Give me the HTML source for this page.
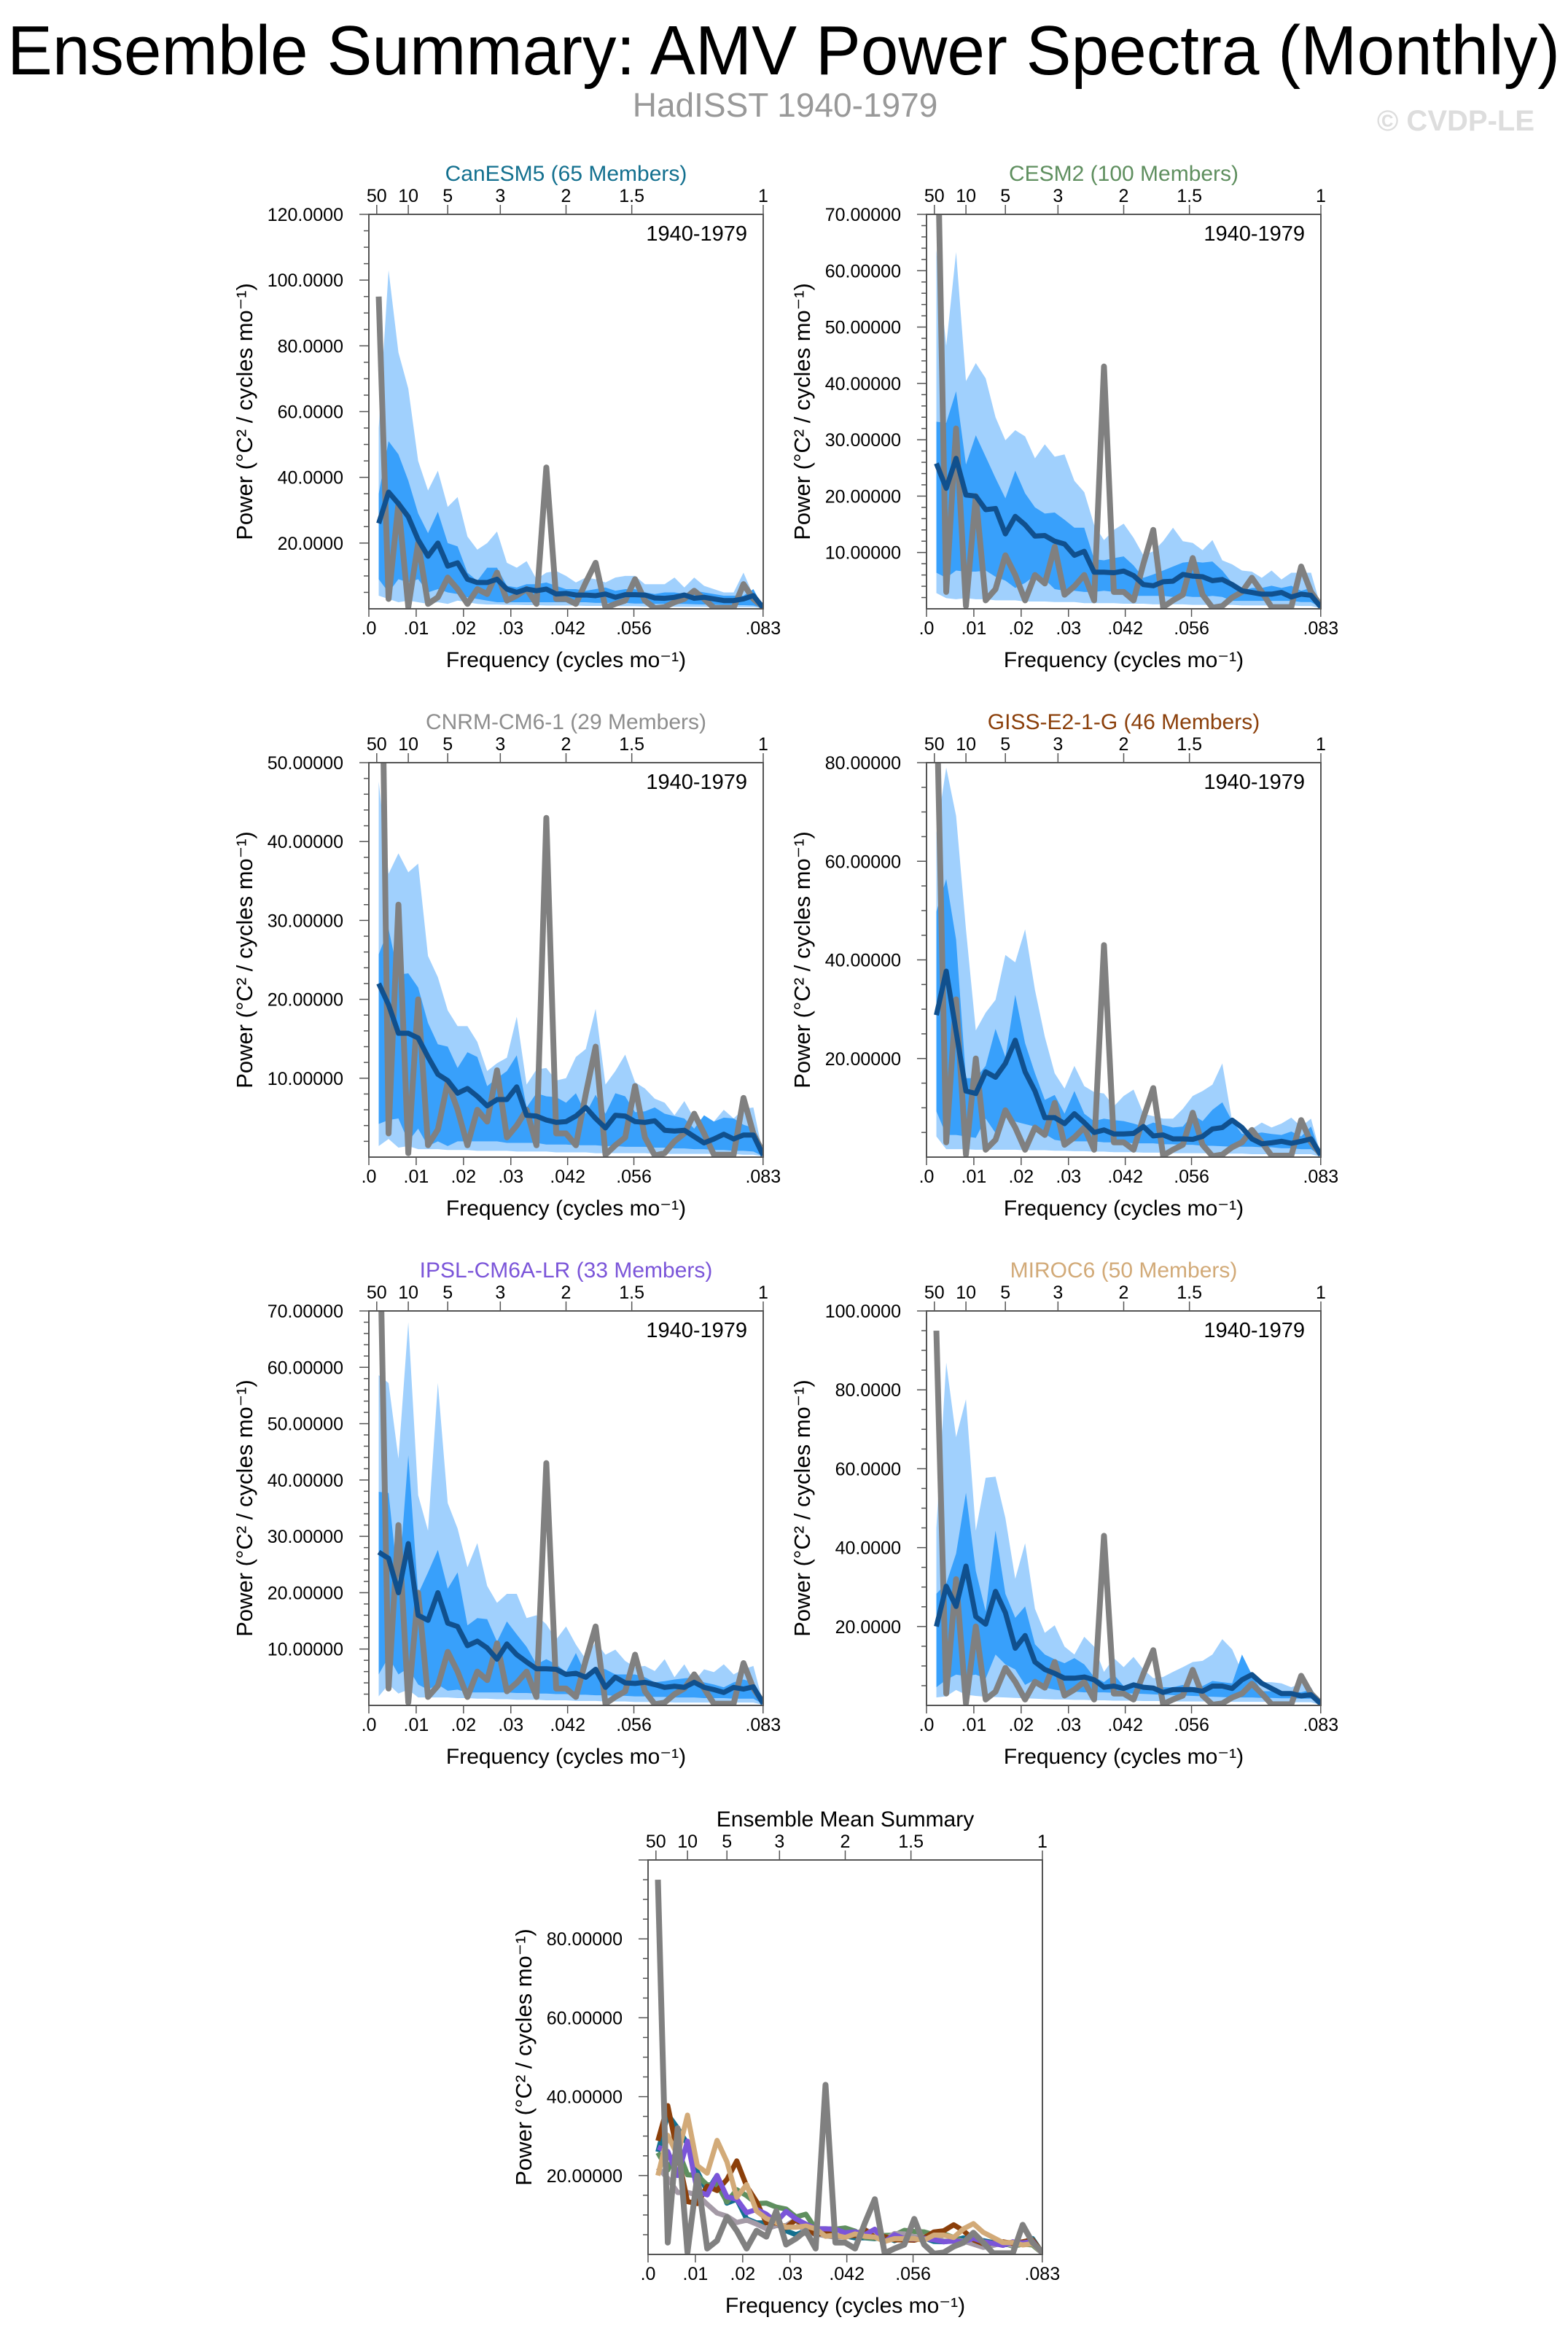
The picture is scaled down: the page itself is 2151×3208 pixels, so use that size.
<!DOCTYPE html>
<html><head><meta charset="utf-8"><title>Ensemble Summary: AMV Power Spectra (Monthly)</title>
<style>html,body{margin:0;padding:0;background:#fff;}svg{display:block;font-family:"Liberation Sans",Arial,sans-serif;}</style>
</head><body>
<svg id="chart" xmlns="http://www.w3.org/2000/svg" width="2151" height="3208" viewBox="0 0 2151 3208">
<rect x="0" y="0" width="2151" height="3208" fill="#fff"/>
<text x="10" y="102" font-size="96" textLength="2130" lengthAdjust="spacingAndGlyphs" fill="#000">Ensemble Summary: AMV Power Spectra (Monthly)</text>
<text x="1077" y="160" font-size="46" text-anchor="middle" fill="#999">HadISST 1940-1979</text>
<text x="2105" y="179" font-size="40" font-weight="bold" text-anchor="end" fill="#ddd">© CVDP-LE</text>
</svg>
<script>
const obs=[95,3,32,0.5,20,1.5,3.5,9.5,6,1.5,6,4.5,11,2.5,4,6,1.5,43,3,3,1.5,8,14,0.3,1.5,2.5,9,2.5,0.2,0.5,2,3,5.5,3,0.3,0.3,0.3,7.5,3,0.5];

const canMean=[26,35.5,32,28,21,16,20,13,14,9,8,8,9,6,5,6,5.5,6,4.5,4.7,4.2,4.2,4,4.5,3.5,4.3,4.3,4.2,3.3,3.2,3.5,4.2,3.2,3.5,3,2.5,2.5,3,4,0.3];
const canHi1=[55,103,78,67,45,36,42,31,34,22,18,20,23.5,14,12.5,14.5,9,11,11.5,10,8,9.5,9,8,9.5,10,10,7.5,7.5,7.5,9.5,6.5,9.5,7,6,5,5,11,4,0.5];
const canHi2=[35,51,47,39,29,23,29.5,20,19,11,8.5,12.5,12.5,7,6.5,7.5,7.5,8,7,6,6,5.5,6,6.5,5.5,6,6,5,4.5,5,5,4.5,5.5,5,4.5,4,4,4,6,0.5];
const canLo2=[9,5,9,8,9,5,6,5,4.5,3.5,3,2.5,2,2,2,2,2,2,2,2,2,2,1.8,1.8,1.8,1.8,1.6,1.6,1.5,1.5,1.5,1.5,1.4,1.3,1.3,1.2,1.1,1.1,1,0.3];
const canLo1=[4,3,2,2.5,2,1.5,2,1.5,2.5,2,1.5,1.3,1.3,1.2,1.2,1.1,1.1,1,1,1,1,0.9,0.9,0.9,0.8,0.8,0.8,0.7,0.7,0.7,0.6,0.6,0.6,0.6,0.5,0.5,0.5,0.5,0.5,0.2];

const cesMean=[25.8,21.4,26.7,20.2,20,17.6,17.8,13.3,16.4,14.9,12.9,13,12,11.5,9.5,10.2,6.5,6.5,6.4,6.7,5.9,4.3,4.1,4.8,4.9,6.1,5.8,5.7,5,5.2,4.3,3.2,2.9,2.6,2.6,2.9,2.1,2.6,2.4,0.3];
const cesHi1=[63.7,46.7,63.3,40.4,43.6,40.9,34,29.9,31.7,30.6,26.7,29.2,27,27.4,22.7,20.7,14.9,12.2,14,15.1,12.6,9.5,10.2,12,14.4,12,11.7,10.4,12.2,8.6,7.9,6.8,6.6,5.5,6.8,5.2,6.4,6.4,6.4,0.3];
const cesHi2=[33.2,33,38.6,25.6,30.8,27,23.2,19.6,24.5,20.5,18,16.9,17.1,15.8,14.4,14.4,8.8,8.6,9,9.3,7.7,5.5,6.1,6.8,7.5,8.2,8.4,8.2,8.4,6.8,4.6,3.2,3.7,3.7,4.1,3.7,4.1,3.2,3.7,0.3];
const cesLo2=[6.4,5.5,6.8,6.6,6.6,6.8,5.7,5,3.7,4.6,5.9,5.2,3.5,3.2,3.2,3,3,3.2,3,3,2.3,2.3,2.3,2.3,2.1,2.3,2.1,2.1,2.3,2.1,1.4,1.4,1.4,1.4,1.4,1.4,1.4,1.2,1.2,0.2];
const cesLo1=[2.8,1.9,1.7,1.9,1.7,1.7,1.5,1.5,1.5,1.3,1.3,1.3,1.2,1.2,1.2,1,1,1,1,0.9,0.9,0.9,0.8,0.8,0.8,0.8,0.7,0.7,0.7,0.7,0.7,0.6,0.6,0.6,0.6,0.6,0.6,0.5,0.5,0.1];

const cnrMean=[22,19.3,15.7,15.7,15.1,12.7,10.5,9.7,8.1,8.7,7.7,6.5,7.3,7.3,8.9,5.3,5.2,4.7,4.4,4.5,5.2,6.3,4.9,3.7,5.3,5.2,4.5,4.4,4.6,3.4,3.3,3.4,2.6,1.8,2.3,2.9,2.3,2.8,2.8,0.2];
const cnrHi1=[47.6,35.9,38.5,36.1,37.2,25.5,22.8,18.6,16.6,16.6,14.6,10.9,11.9,12.6,17.8,9.2,11.1,11.3,9.7,10,12.7,13.7,18.8,9.2,10.9,13,9.5,8.7,7.4,6.9,5.3,7.1,4.9,4.7,4.5,6,4.9,6.1,6.3,0.2];
const cnrHi2=[25.7,28.9,23.1,23.3,21.5,17,14.3,14,11.3,13.3,12.7,9,10,10.9,12.9,6.3,8.1,7.7,7.6,6.9,8.1,5.5,7.9,5.5,8.1,7.7,5.7,5.8,6.3,5.5,5.2,4.9,3.6,5.3,4.5,5,4.9,4.1,3.7,0.2];
const cnrLo2=[4.2,4.7,4.9,2,3.6,1.4,2,1.4,2,2,2,2,2,1.8,1.8,1.8,1.8,1.6,1.6,1.6,1.5,1.5,1.5,1.4,1.4,1.3,1.3,1.3,1.2,1.2,1.1,1.1,1,1,0.9,0.9,0.8,0.8,0.7,0.1];
const cnrLo1=[1.4,2.3,1.2,1.4,1,1,1,0.9,0.9,0.9,0.8,0.8,0.8,0.8,0.7,0.7,0.7,0.7,0.6,0.6,0.6,0.6,0.5,0.5,0.5,0.5,0.5,0.5,0.4,0.4,0.4,0.4,0.4,0.4,0.4,0.4,0.4,0.3,0.3,0.1];

const gisMean=[28.8,37.7,25.5,13.4,12.9,17.3,16.2,19,23.7,17.3,13.4,8,8,6.8,8.8,7,5,5.5,4.7,4.7,4.8,6.2,4.3,4.5,3.7,3.7,3.6,4.2,5.7,6,7.5,6,3.7,2.7,2.9,3.2,2.8,3.2,3.7,0.4];
const gisHi1=[65.7,79,69.2,46.2,25.7,29.3,31.9,41,39.5,46.2,33.9,24.4,17,13.9,18.5,14.4,13.2,12.9,10.3,12.4,13.7,8.8,8.3,7.8,7.8,9.8,12.4,13.4,14.7,19,7.3,5.2,5.7,7,6,6.8,8,6.2,7.8,0.4];
const gisHi2=[49.8,56.4,44.1,16,16,18.5,26,20.3,32.9,23.1,17,11.6,12.6,8.8,13.4,8.8,7.3,7.8,7.5,7.3,6.8,6.2,7,6.5,6,6.2,8.6,7.3,9.6,11.1,7.3,4.7,4.7,5,4.7,4.5,5.2,4.2,6.2,0.4];
const gisLo2=[9.3,4.5,4.5,4.2,3.9,7.8,4.9,9.8,7.2,6.7,6.2,4.7,3.5,3.2,3.2,3.2,3.2,3,3,3,2.8,2.8,2.8,2.6,2.6,2.5,2.5,2.3,2.3,2.2,2.1,2.1,2.1,2,2,1.8,1.8,1.6,1.6,0.2];
const gisLo1=[4.2,1.6,1.6,1.6,1.5,1.5,1.5,1.5,1.5,1.4,1.4,1.4,1.3,1.3,1.2,1.2,1.1,1.1,1,1,1,0.9,0.9,0.9,0.8,0.8,0.8,0.8,0.7,0.7,0.7,0.7,0.6,0.6,0.6,0.6,0.6,0.6,0.6,0.1];

const ipsMean=[27.2,26.1,20,28.7,16,15.1,20,14.6,14,10.6,11.4,10.2,8.2,10.9,9,7.7,6.5,6.5,6.4,5.5,5.7,5,6.4,3.2,5,4,3.9,4.1,3.7,3.2,3.4,3.2,4.1,3.2,2.8,2.3,3.2,2.9,3.3,0.3];
const ipsHi1=[58.6,57.2,43.8,68,37.3,31,57.2,35.9,31.4,24.5,28.8,21.2,18.2,19.8,19.8,15.5,16,14.4,11.7,14,10.8,8.2,11.3,9,9.9,7.9,6.8,7,6.1,8.2,5,7.3,4.3,6.4,5.9,7.3,5.5,6.4,7,0.3];
const ipsHi2=[37.9,37.7,21.2,44.4,19.8,23.6,27.6,20.7,23.6,14.2,15.5,15.3,11.3,14.9,12.6,10.4,7.3,8.2,7.3,5.9,9.3,5.5,6.8,6.4,5.5,5.5,5.5,5,4.1,4.3,4.6,4.8,5,4.1,3.7,3.2,4.1,4.6,4.1,0.3];
const ipsLo2=[5.5,8.6,5.5,6.6,3.7,2.8,3.7,2.6,2.8,2.3,2.3,2.3,2.3,2.3,2.2,2.2,2.1,2.1,2,2,1.9,1.9,1.8,1.8,1.7,1.7,1.6,1.6,1.5,1.5,1.4,1.4,1.4,1.3,1.3,1.3,1.2,1.2,1.2,0.2];
const ipsLo1=[1.6,3.7,2.1,2.8,1.4,1.4,1.4,1.4,1.3,1.3,1.2,1.2,1.1,1.1,1,1,1,0.9,0.9,0.9,0.8,0.8,0.8,0.7,0.7,0.7,0.6,0.6,0.6,0.6,0.5,0.5,0.5,0.5,0.5,0.5,0.5,0.5,0.5,0.1];

const mirMean=[20,30.2,25.1,35.3,22.5,20.6,28.9,23.5,14.5,17.7,11,9.1,8.1,6.9,6.9,7.2,6.5,4.6,4.9,4.3,5.2,4.6,4.4,3.3,4,4,4,3.6,4.9,4.9,4.3,6.5,7.8,5.6,4.3,3,3,2.4,2.7,0.4];
const mirHi1=[45,86.9,68,77.6,44.3,57.7,58,47.5,32.1,41.1,24.5,18.4,20.3,14.9,12.9,17.4,14.9,8.5,12,9.7,12.3,9.1,6.9,7.2,8.5,9.7,11,11.3,12.9,16.8,14.2,8.5,5.6,5.9,5.9,5.6,4.6,5.6,4.6,0.4];
const mirHi2=[28.3,30.9,38.5,53.9,34.1,23.8,44.3,28.3,22.2,25.1,15.5,12.9,11.7,10.7,12,10.4,7.2,5.9,7.8,4.9,5.9,5.2,4.6,4.6,4.6,5.2,4.6,4.9,6.2,5.9,5.6,12.9,7.8,3.6,3.6,3.3,3.6,3.3,4,0.4];
const mirLo2=[4.6,6.5,7.8,7.4,7.8,6.8,12.9,10.4,9.1,5.2,6.5,4.5,4,3.6,3.5,3.3,3.3,3.3,3.2,3.1,3,2.9,2.8,2.7,2.6,2.5,2.4,2.3,2.2,2.1,2,2,2,1.9,1.9,1.8,1.8,1.7,1.7,0.2];
const mirLo1=[2,2.3,3.9,2.7,2.4,2.2,2.1,2,1.9,1.8,1.7,1.6,1.5,1.5,1.4,1.4,1.3,1.3,1.2,1.2,1.2,1.1,1.1,1.1,1,1,1,1,1,1,0.9,0.9,0.9,0.9,0.9,0.8,0.8,0.8,0.8,0.1];

const modelNames=["CanESM5 (65 Members)","CESM2 (100 Members)","CNRM-CM6-1 (29 Members)","GISS-E2-1-G (46 Members)","IPSL-CM6A-LR (33 Members)","MIROC6 (50 Members)"];
const modelColors=["#13708f","#5f8f5f","#8e8e8e","#8b3f0a","#7b55d9","#d2aa78"];
const ensLineColors=["#13708f","#5f8f5f","#a49aa6","#8b3f0a","#7b55d9","#d2aa78"];
const yMaxes=[120,70,50,80,70,100];
const yMajors=[20,10,10,20,10,20];
const yDecimals=[4,5,5,5,5,4];
const means=[canMean,cesMean,cnrMean,gisMean,ipsMean,mirMean];
const hi1s=[canHi1,cesHi1,cnrHi1,gisHi1,ipsHi1,mirHi1];
const hi2s=[canHi2,cesHi2,cnrHi2,gisHi2,ipsHi2,mirHi2];
const lo2s=[canLo2,cesLo2,cnrLo2,gisLo2,ipsLo2,mirLo2];
const lo1s=[canLo1,cesLo1,cnrLo1,gisLo1,ipsLo1,mirLo1];
const xTickVals=[0,0.01,0.02,0.03,0.042,0.056,0.0833];
const xTickLabels=[".0",".01",".02",".03",".042",".056",".083"];
const topPeriods=[50,10,5,3,2,1.5,1];
const topLabels=["50","10","5","3","2","1.5","1"];
const ensYMax=100;
const ensTickVals=[20,40,60,80];

const NS="http://www.w3.org/2000/svg";
const svg=document.getElementById("chart");
const SIZE=541, FMAX=1/12;
function mk(tag,parent){const e=document.createElementNS(NS,tag);parent.appendChild(e);return e;}
function setA(e,o){for(const k in o)e.setAttribute(k,o[k]);}
let clipId=0;

function drawAxes(g,x0,y0,ymax,major,dec,labelVals,title,titleColor){
  const xs=f=>x0+f/FMAX*SIZE;
  const ys=v=>y0+SIZE-v/ymax*SIZE;
  const minor = major===20?5:2;
  for(let v=minor; v<=ymax+1e-9; v+=minor){
    const t=mk("line",g);
    
    
    const isMaj=Math.abs(v/major-Math.round(v/major))<1e-6;
    setA(t,{x1:x0-(isMaj?13:7),x2:x0,y1:ys(v),y2:ys(v),stroke:"#555","stroke-width":1.5});
  }
  labelVals.forEach(v=>{
    const tx=mk("text",g);
    
    
    setA(tx,{x:x0-35,y:ys(v)+9,"font-size":25,"text-anchor":"end",fill:"#000"});
    tx.textContent=v.toFixed(dec);
  });
  xTickVals.forEach((f,i)=>{
    const t=mk("line",g);
    
    
    setA(t,{x1:xs(f),x2:xs(f),y1:y0+SIZE,y2:y0+SIZE+11,stroke:"#555","stroke-width":1.5});
    const tx=mk("text",g);
    
    
    setA(tx,{x:xs(f),y:y0+SIZE+35,"font-size":25,"text-anchor":"middle",fill:"#000"});
    tx.textContent=xTickLabels[i];
  });
  topPeriods.forEach((p,i)=>{
    const f=1/(12*p);
    const t=mk("line",g);
    
    
    setA(t,{x1:xs(f),x2:xs(f),y1:y0-13,y2:y0,stroke:"#555","stroke-width":1.5});
    const tx=mk("text",g);
    
    
    setA(tx,{x:xs(f),y:y0-17,"font-size":25,"text-anchor":"middle",fill:"#000"});
    tx.textContent=topLabels[i];
  });
  const xt=mk("text",g);
  
  
  setA(xt,{x:x0+SIZE/2,y:y0+SIZE+80,"font-size":30,"text-anchor":"middle",fill:"#000"});
  xt.textContent="Frequency (cycles mo⁻¹)";
  const yt=mk("text",g);
  
  
  const cx=x0-160, cy=y0+SIZE/2;
  setA(yt,{x:cx,y:cy,"font-size":31,"text-anchor":"middle",fill:"#000",transform:`rotate(-90 ${cx} ${cy})`});
  yt.textContent="Power (°C² / cycles mo⁻¹)";
  const pt=mk("text",g);
  
  
  setA(pt,{x:x0+SIZE/2,y:y0-46,"font-size":30,"text-anchor":"middle",fill:titleColor});
  pt.textContent=title;
  return {xs,ys};
}

function makeClip(x0,y0){
  const id="clip"+(clipId++);
  const cp=mk("clipPath",svg);
  cp.setAttribute("id",id);
  const r=mk("rect",cp);
  setA(r,{x:x0,y:y0,width:SIZE,height:SIZE});
  return id;
}
function linePts(arr,xs,ys){return arr.map((v,i)=>xs((i+1)/480)+","+ys(v)).join(" ");}
function bandPts(hi,lo,xs,ys){
  const a=hi.map((v,i)=>xs((i+1)/480)+","+ys(v));
  const b=lo.map((v,i)=>xs((i+1)/480)+","+ys(v)).reverse();
  return a.concat(b).join(" ");
}

const positions=[[506,294],[1271,294],[506,1046],[1271,1046],[506,1798],[1271,1798]];
for(let m=0;m<6;m++){
  const [x0,y0]=positions[m];
  const g=mk("g",svg);
  
  
  const ymax=yMaxes[m], major=yMajors[m];
  const labs=[];for(let v=major;v<=ymax+1e-9;v+=major)labs.push(v);
  const {xs,ys}=drawAxes(g,x0,y0,ymax,major,yDecimals[m],labs,modelNames[m],modelColors[m]);
  const cid=makeClip(x0,y0);
  const pg=mk("g",g);
  pg.setAttribute("clip-path",`url(#${cid})`);
  const b1=mk("polygon",pg);
  
  
  setA(b1,{points:bandPts(hi1s[m],lo1s[m],xs,ys),fill:"#a0d0fd"});
  const b2=mk("polygon",pg);
  
  
  setA(b2,{points:bandPts(hi2s[m],lo2s[m],xs,ys),fill:"#38a0fb"});
  const ol=mk("polyline",pg);
  
  
  setA(ol,{points:linePts(obs,xs,ys),fill:"none",stroke:"#808080","stroke-width":8,"stroke-linejoin":"round"});
  const ml=mk("polyline",pg);
  
  
  setA(ml,{points:linePts(means[m],xs,ys),fill:"none",stroke:"#10508e","stroke-width":7,"stroke-linejoin":"round"});
  const fr=mk("rect",g);
  
  
  setA(fr,{x:x0,y:y0,width:SIZE,height:SIZE,fill:"none",stroke:"#555","stroke-width":2});
  const pl=mk("text",g);
  
  
  setA(pl,{x:x0+SIZE-22,y:y0+36,"font-size":29,"text-anchor":"end",fill:"#000"});
  pl.textContent="1940-1979";
}

(function(){
  const x0=889,y0=2551;
  const g=mk("g",svg);
  
  
  const {xs,ys}=drawAxes(g,x0,y0,ensYMax,20,5,ensTickVals,"Ensemble Mean Summary","#000");
  const cid=makeClip(x0,y0);
  const pg=mk("g",g);
  pg.setAttribute("clip-path",`url(#${cid})`);
  for(let m=0;m<6;m++){
    const l=mk("polyline",pg);
    
    
    setA(l,{points:linePts(means[m],xs,ys),fill:"none",stroke:ensLineColors[m],"stroke-width":7,"stroke-linejoin":"round"});
  }
  const ol=mk("polyline",pg);
  
  
  setA(ol,{points:linePts(obs,xs,ys),fill:"none",stroke:"#808080","stroke-width":8,"stroke-linejoin":"round"});
  const fr=mk("rect",g);
  
  
  setA(fr,{x:x0,y:y0,width:SIZE,height:SIZE,fill:"none",stroke:"#555","stroke-width":2});
})();
</script>
</body></html>
